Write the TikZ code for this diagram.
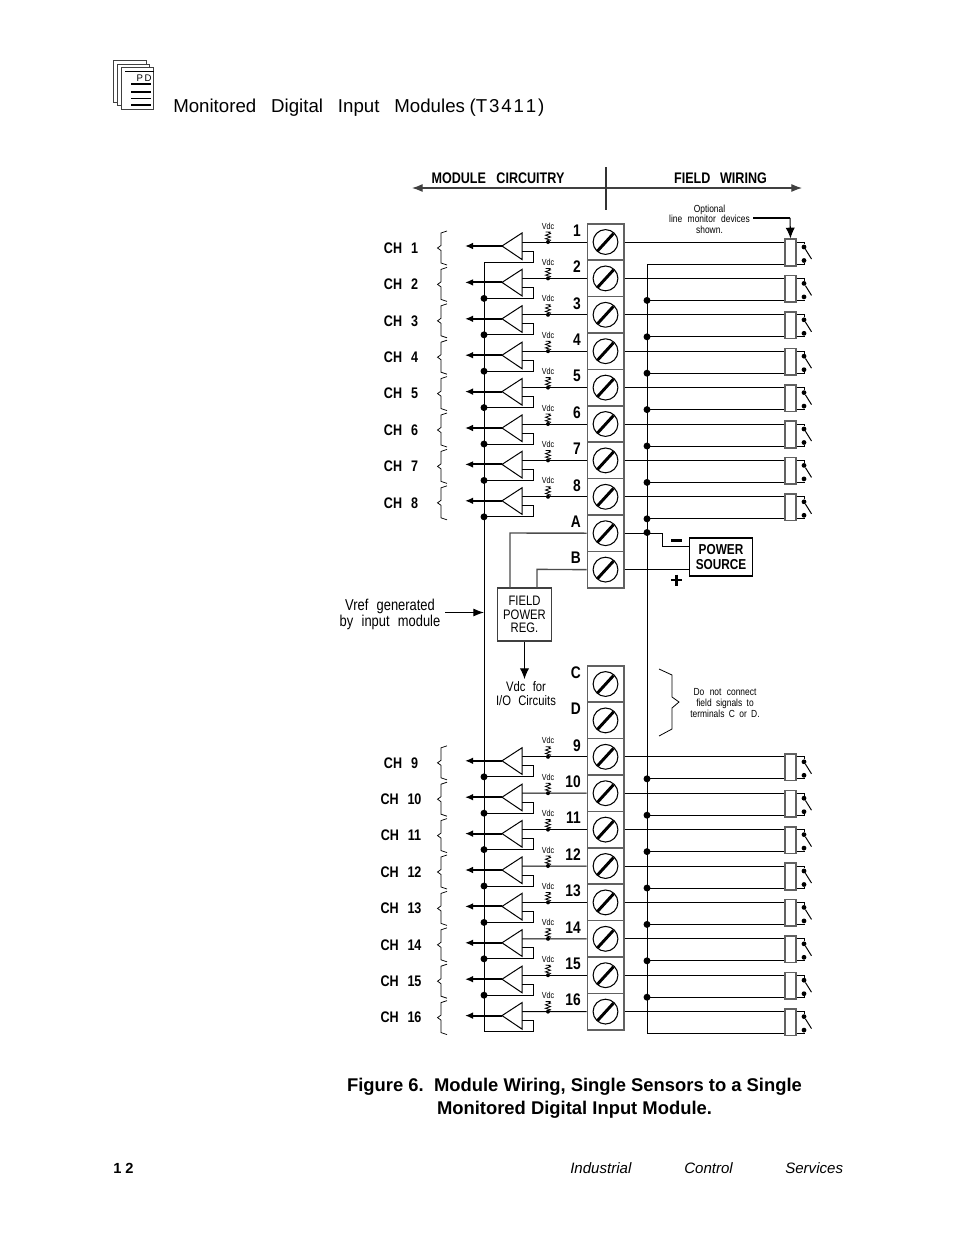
\documentclass[tikz,border=0pt]{standalone}
\usepackage{fontspec}
\setmainfont{Liberation Sans}
\newfontfamily\nar[FakeStretch=0.82]{Liberation Sans}
\usetikzlibrary{arrows.meta,calc}
\definecolor{term}{gray}{0.38}
\tikzset{
 wire/.style={line width=0.75pt,black},
 gwire/.style={line width=1.05pt,black!70},
 tbox/.style={draw=term,line width=1.2pt,minimum width=27.3pt,minimum height=27.3pt,inner sep=0pt},
 screw/.style={circle,draw=black,line width=0.8pt,minimum size=18.6pt,inner sep=0pt},
 slot/.style={line width=2.2pt,black},
 jn/.style={circle,fill=black,inner sep=0pt,minimum size=5.2pt},
 sd/.style={circle,fill=black,inner sep=0pt,minimum size=3.6pt},
 lab/.style={font=\nar\bfseries\fontsize{11.5}{13}\selectfont,inner sep=0pt,anchor=center},
 tnum/.style={font=\nar\bfseries\fontsize{12.6}{13}\selectfont,inner sep=0pt},
 sm/.style={font=\nar\fontsize{7.7}{8}\selectfont,inner sep=0pt,align=center},
 mid/.style={font=\nar\fontsize{10.3}{10.5}\selectfont,inner sep=0pt,align=center},
 vrf/.style={font=\nar\fontsize{11.8}{12}\selectfont,inner sep=0pt,align=center},
 vd/.style={font=\nar\fontsize{6.6}{7}\selectfont,inner sep=0pt},
 outarrow/.style={line width=1.4pt,-{Latex[length=6pt,width=5pt]}},
 devbox/.style={draw=term,line width=1.2pt,fill=white,minimum width=8pt,minimum height=20pt,inner sep=0pt},
 brc/.style={line width=0.55pt,black},
 boxx/.style={draw=black!75,line width=0.9pt,inner sep=0pt,align=center},
 page/.style={line width=0.6pt,draw=black!75,fill=white},
}
% terminal: id, y, label
\newcommand{\termi}[3]{%
 \node[tbox] (T#1) at (605.5,#2) {};
 \node[screw] (S#1) at (605.5,#2) {};
 \draw[slot] ($(S#1.center)+(-8,9)$) -- ($(S#1.center)+(8,-8.5)$);
 \node[tnum,anchor=east] at (581,#2-11.5) {#3};
}
% channel: id, y
\newcommand{\chan}[2]{%
 \pgfmathsetmacro{\yy}{#2}
 \node[devbox] (D#1) at (790.5,\yy+10.5) {};
 \draw[wire] (T#1.east) -- (D#1.west |- T#1.east);
 \coordinate (R#1) at (647,\yy+22);
 \draw[wire] (R#1) -- (D#1.west |- R#1);
 \node[sd] (P#1) at (804,\yy+5) {};
 \node[sd] (Q#1) at (804,\yy+18.5) {};
 \draw[wire] (D#1.east |- T#1.east) -| (P#1);
 \draw[wire] (D#1.east |- R#1) -| (Q#1);
 \draw[wire] (P#1) -- ++(7.5,12);
 \draw[wire] (T#1.west) -- (522,\yy);
 \draw[wire,fill=white] (522,\yy-9) -- (502,\yy+4) -- (522,\yy+17.5) -- cycle;
 \draw[outarrow] (502,\yy+4) -- (465,\yy+4);
 \draw[wire] (522,\yy+9) -- (533,\yy+9) -- (533,\yy+20) -- (484,\yy+20);
 \node[vd] at (548,\yy-16) {Vdc};
 \node[sd,minimum size=3pt] (V#1) at (548,\yy) {};
 \draw[line width=0.6pt] (545.5,\yy-10) -- (550.5,\yy-10) (548,\yy-10) -- (550.5,\yy-8.5) -- (545.5,\yy-6.8) -- (550.5,\yy-5) -- (545.5,\yy-3.3) -- (550.5,\yy-1.8) -- (V#1);
 \draw[brc] (447,\yy-11) -- (441,\yy-9) -- (441,\yy+3.5) -- (437.5,\yy+6) -- (441,\yy+8.5) -- (441,\yy+21) -- (447,\yy+23);
}
\begin{document}
\begin{tikzpicture}[x=0.75pt,y=-0.75pt]
\useasboundingbox (0,0) rectangle (954,1235);
\fill[white] (0,0) rectangle (954,1235);

% page icon
\draw[page] (113,60) rectangle (146,102);
\draw[page] (117,64) rectangle (149.5,105.5);
\draw[page] (121,67.5) rectangle (153.5,109.5);
\draw[line width=1.1pt] (125,71.5) -- (153.5,71.5);
\node[inner sep=0pt,font=\fontsize{7.2}{8}\selectfont] (pd) at (144,78.5) {P\,D};
\draw[line width=0.8pt] (131,84) -- (151,84) (131,92) -- (151,92);
\draw[line width=1.4pt] (131,98.5) -- (151,98.5);
\draw[line width=0.8pt] (131,105) -- (151,105);

\node[anchor=west,inner sep=0pt,font=\fontsize{14}{16}\selectfont] (title) at (173,107.5) {Monitored\hspace{.8em}Digital\hspace{.8em}Input\hspace{.8em}Modules\hspace{.25em}(T\hspace{.1em}3\hspace{.1em}4\hspace{.1em}1\hspace{.1em}1\hspace{.1em})};

% header
\node[lab] (mc) at (498,178) {MODULE\hspace{.45em} CIRCUITRY};
\node[lab] (fw) at (720.5,178) {FIELD\hspace{.4em} WIRING};
\coordinate (hl) at (412,188); \coordinate (hr) at (802,188);
\draw[line width=0.8pt,black!75,{Latex[length=8pt,width=6pt]}-{Latex[length=8pt,width=6pt]}] (hl) -- (hr);
\draw[line width=0.8pt,black!80] (606,167) -- (606,210);

% buses
\draw[wire] (484,262) -- (484,1031);
\draw[wire] (647,264) -- (647,1033);

% terminals upper
\foreach \i [count=\c from 0] in {1,2,3,4,5,6,7,8,A,B}{
 \pgfmathsetmacro{\yt}{242+36.4*\c}
 \termi{\i}{\yt}{\i}
}
% terminals lower
\foreach \i [count=\c from 0] in {C,D,9,10,11,12,13,14,15,16}{
 \pgfmathsetmacro{\yt}{684+36.4*\c}
 \termi{\i}{\yt}{\i}
}
% channels
\foreach \n [count=\c from 0] in {1,...,8}{
 \pgfmathsetmacro{\yc}{242+36.4*\c}
 \chan{\n}{\yc}
 \node[lab] at (401,\yc+6) {CH\hspace{.35em} \n};
 \ifnum\c>0 \node[jn] at (484,\yc+20) {}; \node[jn] at (647,\yc+22) {}; \fi
}
\foreach \n [count=\c from 0] in {9,...,16}{
 \pgfmathsetmacro{\yc}{756.8+36.4*\c}
 \chan{\n}{\yc}
 \node[lab] at (401,\yc+6) {CH\hspace{.35em} \n};
 \ifnum\c<7 \node[jn] at (484,\yc+20) {}; \node[jn] at (647,\yc+22) {}; \fi
}

% device note
\node[sm] (optn) at (709.5,219) {Optional\\line\hspace{.3em} monitor\hspace{.3em} devices\\shown.};
\coordinate (arrA) at (753,218);
\coordinate (arrB) at (790,218);
\draw[line width=0.8pt] (arrA) -- (arrB);
\draw[line width=0.8pt,-{Latex[length=8pt,width=7pt]}] (arrB) -- (D1.north);

% power source
\node[boxx,draw=black,minimum width=47.6pt,minimum height=28.5pt,font=\nar\bfseries\fontsize{10.8}{11.2}\selectfont] (ps) at (721,557) {POWER\\SOURCE};
\node[jn] (ja) at (647,532.5) {};
\coordinate (kn) at (662,546.5);
\draw[wire] (TA.east) -- (kn |- TA.east) -- (kn) -- (kn -| ps.west);
\draw[wire] (TB.east) -- (ps.west |- TB.east);
\draw[line width=2.2pt] (671,540.5) -- (682,540.5);
\draw[line width=2.2pt] (671,580) -- (682,580) (676.5,574.5) -- (676.5,585.5);

% field power reg
\node[boxx,minimum width=41pt,minimum height=39.7pt,font=\nar\fontsize{10.3}{10.2}\selectfont] (fpr) at (524.5,614.5) {FIELD\\POWER\\REG.};
\draw[gwire] (TA.west) -- (510,533) -- (510,588);
\draw[gwire] (TB.west) -- (537,569.4) -- (537,588);
\draw[line width=0.8pt,-{Latex[length=8pt,width=7pt]}] (fpr.south) -- (524.5,679);
\node[mid] (vio) at (526,694) {Vdc\hspace{.3em} for\\I/O\hspace{.3em} Circuits};

% vref
\node[vrf] (vref) at (390,614.5) {Vref\hspace{.3em} generated\\by\hspace{.3em} input\hspace{.3em} module};
\coordinate (vr) at (445,612.5);
\coordinate (vb) at (484,612.5);
\draw[line width=0.8pt,-{Latex[length=8pt,width=6pt]}] (vr) -- (vb);

% C/D note
\draw[brc,line width=.6pt] (659,669) -- (672,675) -- (672,697) -- (679,702) -- (672,708) -- (672,729) -- (659,736);
\node[sm] (cd) at (725,703) {Do\hspace{.3em} not\hspace{.3em} connect\\field\hspace{.2em} signals\hspace{.2em} to\\terminals\hspace{.2em} C\hspace{.2em} or\hspace{.2em} D.};

% caption
\node[inner sep=0pt,font=\bfseries\fontsize{13.8}{17.2}\selectfont,align=center] (cap) at (574.5,1098.5) {Figure 6.\ \ Module Wiring, Single Sensors to a Single\\Monitored Digital Input Module.};

% footer
\node[anchor=west,inner sep=0pt,font=\bfseries\fontsize{11}{13}\selectfont] (pg) at (113,1168.5) {1 2};
\node[anchor=west,inner sep=0pt,font=\itshape\fontsize{11.3}{13}\selectfont] (f1) at (570,1168.5) {Industrial};
\node[anchor=west,inner sep=0pt,font=\itshape\fontsize{11.3}{13}\selectfont] (f2) at (684,1168.5) {Control};
\node[anchor=west,inner sep=0pt,font=\itshape\fontsize{11.3}{13}\selectfont] (f3) at (785,1168.5) {Services};
\end{tikzpicture}
\end{document}
